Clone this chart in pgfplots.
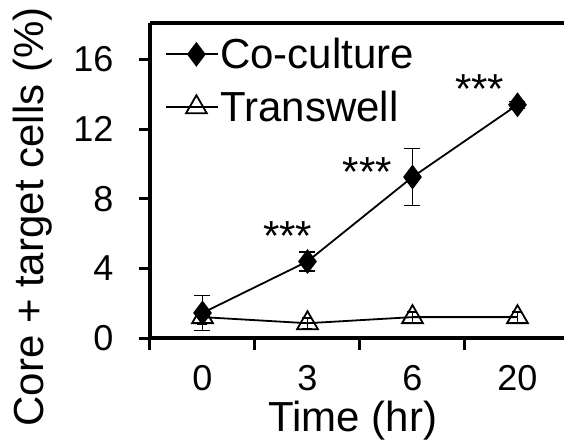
\documentclass[border=0pt]{standalone}
\usepackage{fontspec}
\setmainfont{Liberation Sans}
\usepackage{pgfplots}
\pgfplotsset{compat=1.18}
\begin{document}
\begin{tikzpicture}
\begin{axis}[
  scale only axis,
  width=414pt, height=315pt,
  at={(0pt,0pt)}, anchor=south west,
  xmin=0, xmax=3.943, ymin=0, ymax=18.1,
  axis y line*=left,
  axis line style={line width=3.2pt},
  xtick={0.5,1.5,2.5,3.5},
  xticklabels={0,3,6,20},
  minor xtick={0,1,2,3},
  ytick={0,4,8,12,16},
  xtick pos=lower, ytick pos=left,
  tick align=outside,
  major x tick style={draw=none},
  major tick length=11pt, minor tick length=12pt,
  tick style={line width=3pt, black},
  /pgf/number format/assume math mode=true,
  tick label style={font=\fontsize{36}{40}\selectfont},
  xticklabel style={yshift=-13pt},
  yticklabel style={xshift=-22pt},
  xlabel={Time (hr)},
  ylabel={Core + target cells (\%)},
  every axis x label/.style={at={(axis description cs:0.49,-0.298)}, anchor=base, font=\fontsize{42}{46}\selectfont},
  every axis y label/.style={at={(axis description cs:-0.283,0.384)}, anchor=center, rotate=90, font=\fontsize{42}{46}\selectfont},
  legend style={at={(axis description cs:0.037,0.955)}, anchor=north west, draw=none, fill=none,
    font=\fontsize{42}{46}\selectfont, row sep=19pt, inner sep=0pt,
    nodes={inner sep=1pt}},
  legend cell align=left,
  legend image code/.code={\draw[mark repeat=2,mark phase=2] plot coordinates {(0pt,0pt)(30pt,0pt)(52pt,0pt)};},
  clip=false,
]
\addplot[black, line width=1.8pt, mark=diamond*, mark size=11pt, mark options={solid, fill=black},
  error bars/.cd, y dir=both, y explicit, error bar style={line width=1.3pt},
  error mark options={rotate=90, mark size=8pt, line width=1.3pt}]
  coordinates {
  (0.5,1.44) +- (0,1.0)
  (1.5,4.4) +- (0,0.55)
  (2.5,9.25) +- (0,1.65)
  (3.5,13.4) +- (0,0.2)
};
\addlegendentry{Co-culture}
\addplot[black, line width=1.8pt, mark=triangle, mark size=12pt, mark options={solid, fill=white, line width=1.8pt},
  error bars/.cd, y dir=both, y explicit, error bar style={line width=1.3pt},
  error mark options={rotate=90, mark size=5pt, line width=1.3pt}]
  coordinates {
  (0.5,1.2) +- (0,0.4)
  (1.5,0.85) +- (0,0.3)
  (2.5,1.2) +- (0,0.3)
  (3.5,1.2) +- (0,0.3)
};
\addlegendentry{Transwell}
\node[font=\fontsize{42}{46}\selectfont, anchor=base] at (axis cs:1.31,5.0) {***};
\node[font=\fontsize{42}{46}\selectfont, anchor=base] at (axis cs:2.07,8.7) {***};
\node[font=\fontsize{42}{46}\selectfont, anchor=base] at (axis cs:3.14,13.5) {***};
\end{axis}
\pgfresetboundingbox
\path[use as bounding box] (-150pt,-107pt) rectangle (414pt,338pt);
\end{tikzpicture}
\end{document}
